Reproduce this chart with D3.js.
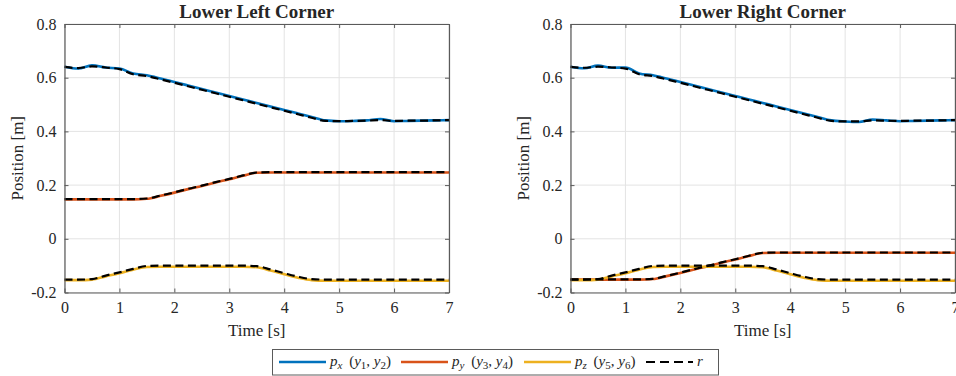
<!DOCTYPE html>
<html>
<head>
<meta charset="utf-8">
<script src="https://cdn.jsdelivr.net/npm/d3@7"></script>
<style>
  body { margin: 0; background: #fff; }
  svg { display: block; }
  svg text { font-family: "Liberation Serif", "DejaVu Serif", serif; }
</style>
</head>
<body>
<svg id="chart" width="956" height="376"></svg>
<script>
// time samples shared by every series [s]
const time = [0, 0.25, 0.5, 0.75, 1, 1.25, 1.5, 1.75, 2, 2.25, 2.5, 2.75, 3, 3.25, 3.5,
  3.75, 4, 4.25, 4.5, 4.75, 5, 5.25, 5.5, 5.75, 6, 6.25, 6.5, 6.75, 7]

// lower left corner
const left_px = [0.641, 0.634, 0.646, 0.638, 0.634, 0.616, 0.609, 0.597, 0.584, 0.571, 0.558, 0.545, 0.532, 0.519, 0.506,
  0.493, 0.480, 0.467, 0.454, 0.441, 0.438, 0.439, 0.441, 0.446, 0.438, 0.439, 0.440, 0.441, 0.442]
const left_py = [0.147, 0.147, 0.147, 0.147, 0.147, 0.147, 0.149, 0.160, 0.172, 0.185, 0.197, 0.210, 0.222, 0.235, 0.246,
  0.247, 0.247, 0.247, 0.247, 0.247, 0.247, 0.247, 0.247, 0.247, 0.247, 0.247, 0.247, 0.247, 0.247]
const left_pz = [-0.154, -0.154, -0.152, -0.140, -0.128, -0.115, -0.105, -0.104, -0.104, -0.104, -0.104, -0.104, -0.104, -0.104, -0.106,
  -0.118, -0.132, -0.145, -0.154, -0.156, -0.156, -0.156, -0.156, -0.156, -0.156, -0.156, -0.156, -0.156, -0.156]
const left_rx = [0.640, 0.636, 0.642, 0.638, 0.632, 0.613, 0.606, 0.594, 0.581, 0.568, 0.555, 0.542, 0.529, 0.516, 0.503,
  0.490, 0.477, 0.464, 0.451, 0.439, 0.438, 0.439, 0.440, 0.442, 0.439, 0.440, 0.440, 0.441, 0.442]
const left_ry = [0.148, 0.148, 0.148, 0.148, 0.148, 0.148, 0.150, 0.161, 0.173, 0.186, 0.198, 0.211, 0.223, 0.236, 0.247,
  0.248, 0.248, 0.248, 0.248, 0.248, 0.248, 0.248, 0.248, 0.248, 0.248, 0.248, 0.248, 0.248, 0.248]
const left_rz = [-0.152, -0.152, -0.150, -0.137, -0.125, -0.112, -0.101, -0.100, -0.100, -0.100, -0.100, -0.100, -0.100, -0.100, -0.102,
  -0.114, -0.128, -0.141, -0.150, -0.152, -0.152, -0.152, -0.152, -0.152, -0.152, -0.152, -0.152, -0.152, -0.152]

// lower right corner
const right_px = [0.641, 0.635, 0.645, 0.637, 0.638, 0.616, 0.609, 0.597, 0.584, 0.571, 0.558, 0.545, 0.532, 0.519, 0.506,
  0.493, 0.480, 0.467, 0.454, 0.441, 0.437, 0.435, 0.444, 0.441, 0.438, 0.439, 0.440, 0.441, 0.442]
const right_py = [-0.152, -0.152, -0.152, -0.152, -0.152, -0.152, -0.150, -0.139, -0.127, -0.114, -0.102, -0.089, -0.077, -0.064, -0.053,
  -0.052, -0.052, -0.052, -0.052, -0.052, -0.052, -0.052, -0.052, -0.052, -0.052, -0.052, -0.052, -0.052, -0.052]
const right_pz = left_pz
const right_rx = [0.640, 0.637, 0.641, 0.638, 0.634, 0.613, 0.606, 0.594, 0.581, 0.568, 0.555, 0.542, 0.529, 0.516, 0.503,
  0.490, 0.477, 0.464, 0.451, 0.439, 0.437, 0.437, 0.441, 0.440, 0.439, 0.440, 0.440, 0.441, 0.442]
const right_ry = [-0.151, -0.151, -0.151, -0.151, -0.151, -0.151, -0.149, -0.138, -0.126, -0.113, -0.101, -0.088, -0.076, -0.063, -0.052,
  -0.051, -0.051, -0.051, -0.051, -0.051, -0.051, -0.051, -0.051, -0.051, -0.051, -0.051, -0.051, -0.051, -0.051]
const right_rz = left_rz

const x_ticks = [0, 1, 2, 3, 4, 5, 6, 7]
const y_ticks = [-0.2, 0, 0.2, 0.4, 0.6, 0.8]
const y_tick_labels = ["-0.2", "0", "0.2", "0.4", "0.6", "0.8"]

const colors = ["#0072BD", "#D95319", "#EDB120"]
const legend_items = [
  [{t: "p", i: 1}, {t: "x", i: 1, s: 1}, {t: " ("}, {t: "y", i: 1}, {t: "1", s: 1}, {t: ", "}, {t: "y", i: 1}, {t: "2", s: 1}, {t: ")"}],
  [{t: "p", i: 1}, {t: "y", i: 1, s: 1}, {t: " ("}, {t: "y", i: 1}, {t: "3", s: 1}, {t: ", "}, {t: "y", i: 1}, {t: "4", s: 1}, {t: ")"}],
  [{t: "p", i: 1}, {t: "z", i: 1, s: 1}, {t: " ("}, {t: "y", i: 1}, {t: "5", s: 1}, {t: ", "}, {t: "y", i: 1}, {t: "6", s: 1}, {t: ")"}],
  [{t: "r", i: 1}]
]

const panels = [
  {title: "Lower Left Corner", left: 64.5, right: 449, series: [left_px, left_py, left_pz], refs: [left_rx, left_ry, left_rz]},
  {title: "Lower Right Corner", left: 570.5, right: 955, series: [right_px, right_py, right_pz], refs: [right_rx, right_ry, right_rz]}
]

const plot_top = 24, plot_bottom = 292.5
const text_color = "#262626"
const serif = "'Liberation Serif', 'DejaVu Serif', serif"
const svg = d3.select("#chart")

function draw_panel(p) {
  let x = d3.scaleLinear([0, 7], [p.left, p.right])
  let y = d3.scaleLinear([-0.2, 0.8], [plot_bottom, plot_top])
  let g = svg.append("g")

  // grid
  g.append("g").selectAll("line").data(x_ticks).enter().append("line")
    .attr("x1", d => x(d)).attr("x2", d => x(d)).attr("y1", plot_top).attr("y2", plot_bottom)
    .attr("stroke", "#e3e3e3").attr("stroke-width", 1)
  g.append("g").selectAll("line").data(y_ticks).enter().append("line")
    .attr("x1", p.left).attr("x2", p.right).attr("y1", d => y(d)).attr("y2", d => y(d))
    .attr("stroke", "#e3e3e3").attr("stroke-width", 1)

  // data lines
  let line = vals => d3.line().x((d, i) => x(time[i])).y(d => y(d)).curve(d3.curveMonotoneX)(vals)
  p.series.forEach((s, i) => {
    g.append("path").attr("d", line(s)).attr("fill", "none")
      .attr("stroke", colors[i]).attr("stroke-width", 2.6)
  })
  p.refs.forEach(s => {
    g.append("path").attr("d", line(s)).attr("fill", "none")
      .attr("stroke", "#000").attr("stroke-width", 2.2).attr("stroke-dasharray", "8,4.5")
  })

  // axes (ticks inward, mirrored on top and right)
  let ax_b = g.append("g").attr("transform", `translate(0,${plot_bottom})`)
    .call(d3.axisBottom(x).tickValues(x_ticks).tickSizeInner(-4).tickSizeOuter(0).tickPadding(9)
      .tickFormat(d3.format("d")))
  let ax_t = g.append("g").attr("transform", `translate(0,${plot_top})`)
    .call(d3.axisTop(x).tickValues(x_ticks).tickSizeInner(-4).tickSizeOuter(0).tickFormat(""))
  let ax_l = g.append("g").attr("transform", `translate(${p.left},0)`)
    .call(d3.axisLeft(y).tickValues(y_ticks).tickSizeInner(-4).tickSizeOuter(0).tickPadding(8)
      .tickFormat((d, i) => y_tick_labels[i]))
  let ax_r = g.append("g").attr("transform", `translate(${p.right},0)`)
    .call(d3.axisRight(y).tickValues(y_ticks).tickSizeInner(-4).tickSizeOuter(0).tickFormat(""))
  for (let a of [ax_b, ax_t, ax_l, ax_r]) {
    a.attr("font-family", serif).attr("font-size", 16)
    a.select(".domain").attr("stroke", "#5a5a5a").attr("stroke-width", 1.2)
    a.selectAll(".tick line").attr("stroke", "#5a5a5a")
    a.selectAll("text").attr("fill", text_color)
  }

  // labels
  g.append("text").attr("x", (p.left + p.right) / 2).attr("y", 18)
    .attr("text-anchor", "middle").attr("fill", text_color)
    .attr("font-family", serif).attr("font-size", 19).attr("font-weight", "bold").text(p.title)
  g.append("text").attr("x", (p.left + p.right) / 2).attr("y", 336)
    .attr("text-anchor", "middle").attr("fill", text_color)
    .attr("font-family", serif).attr("font-size", 17).text("Time [s]")
  g.append("text").attr("transform", `translate(${p.left - 42},${(plot_top + plot_bottom) / 2}) rotate(-90)`)
    .attr("text-anchor", "middle").attr("fill", text_color)
    .attr("font-family", serif).attr("font-size", 17).text("Position [m]")
}

panels.forEach(draw_panel)

// legend
function draw_legend() {
  let g = svg.append("g")
  g.append("rect").attr("x", 272.5).attr("y", 349.5).attr("width", 446).attr("height", 25.5)
    .attr("fill", "#fff").attr("stroke", "#5a5a5a").attr("stroke-width", 1)
  let starts = [279, 401, 524, 646]
  legend_items.forEach((parts, i) => {
    let sx = starts[i]
    let l = g.append("line").attr("x1", sx).attr("x2", sx + 47).attr("y1", 362).attr("y2", 362)
    if (i < 3) l.attr("stroke", colors[i]).attr("stroke-width", 2.4)
    else l.attr("stroke", "#000").attr("stroke-width", 2.2).attr("stroke-dasharray", "9,5")
    let t = g.append("text").attr("x", sx + 51).attr("y", 366).attr("fill", text_color)
      .attr("font-family", serif).attr("font-size", 15)
    let in_sub = false
    parts.forEach(d => {
      let sp = t.append("tspan").text(d.t)
      if (d.i) sp.attr("font-style", "italic")
      if (d.s && !in_sub) { sp.attr("dy", 3); in_sub = true }
      else if (!d.s && in_sub) { sp.attr("dy", -3); in_sub = false }
      if (d.s) sp.attr("font-size", 11)
      if (d.t === " (") sp.attr("dx", 3)
    })
  })
}

draw_legend()
</script>
</body>
</html>
